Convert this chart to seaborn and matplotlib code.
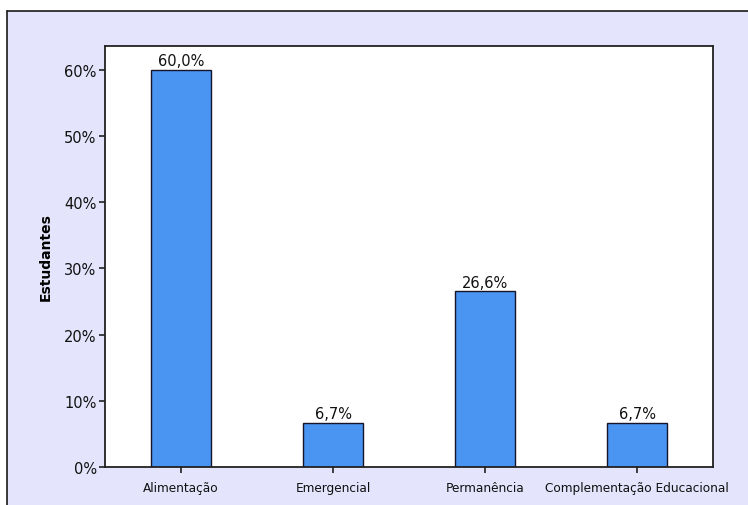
import matplotlib
matplotlib.use("Agg")
import matplotlib.pyplot as plt
import seaborn as sns
import pandas as pd
from matplotlib.patches import Rectangle

categories = ["Alimentação", "Emergencial", "Permanência", "Complementação Educacional"]
values = [60.0, 6.7, 26.6, 6.7]
value_labels = ["60,0%", "6,7%", "26,6%", "6,7%"]
yticks = [0, 10, 20, 30, 40, 50, 60]
ytick_labels = ["0%", "10%", "20%", "30%", "40%", "50%", "60%"]

sns.set_style("white")
plt.rcParams['font.family'] = ['DejaVu Sans']

W, H = 748, 506
fig = plt.figure(figsize=(W / 100, H / 100), dpi=100)
fig.patch.set_facecolor("white")

# outer lavender frame
fig.add_artist(Rectangle((7 / W, 0), 1, 1 - 12 / H, transform=fig.transFigure,
                         facecolor="#E4E4FC", edgecolor="none", zorder=-10))
fig.add_artist(plt.Line2D([7 / W, 1.01], [1 - 12 / H, 1 - 12 / H], transform=fig.transFigure,
                          color="#1a1a1a", lw=1.2, zorder=-5))
fig.add_artist(plt.Line2D([7 / W, 7 / W], [-0.01, 1 - 12 / H], transform=fig.transFigure,
                          color="#1a1a1a", lw=1.2, zorder=-5))

ax = fig.add_axes([105 / W, (H - 468) / H, 608 / W, 421 / H])
ax.set_zorder(5)
ax.set_facecolor("white")

df = pd.DataFrame({"cat": categories, "val": values})
sns.barplot(data=df, x="cat", y="val", color="#4A94F2", saturation=1, width=0.39,
            edgecolor="#15152a", linewidth=1.0, ax=ax)

for i, (v, lab) in enumerate(zip(values, value_labels)):
    ax.annotate(lab, (i, v), xytext=(0, 1.0), textcoords="offset points",
                ha="center", va="bottom", fontsize=10.5, color="#111111")

ax.set_xlim(-0.5, 3.5)
ax.set_ylim(0, 63.6)
ax.set_yticks(yticks)
ax.set_yticklabels(ytick_labels, fontsize=10.5)
ax.tick_params(axis="x", labelsize=8.7, length=4, width=1.2, direction="out", bottom=True, pad=6, colors="#222222")
ax.tick_params(axis="y", length=4, width=1.2, direction="out", left=True, pad=2, colors="#222222")
for lab in ax.get_xticklabels() + ax.get_yticklabels():
    lab.set_color("#111111")
ax.set_xlabel("")
ax.set_ylabel("Estudantes", fontsize=10, fontweight="bold", labelpad=8, color="black")
for s in ax.spines.values():
    s.set_visible(True)
    s.set_color("#222222")
    s.set_linewidth(1.3)

fig.savefig("out.png", dpi=100, facecolor=fig.get_facecolor())
